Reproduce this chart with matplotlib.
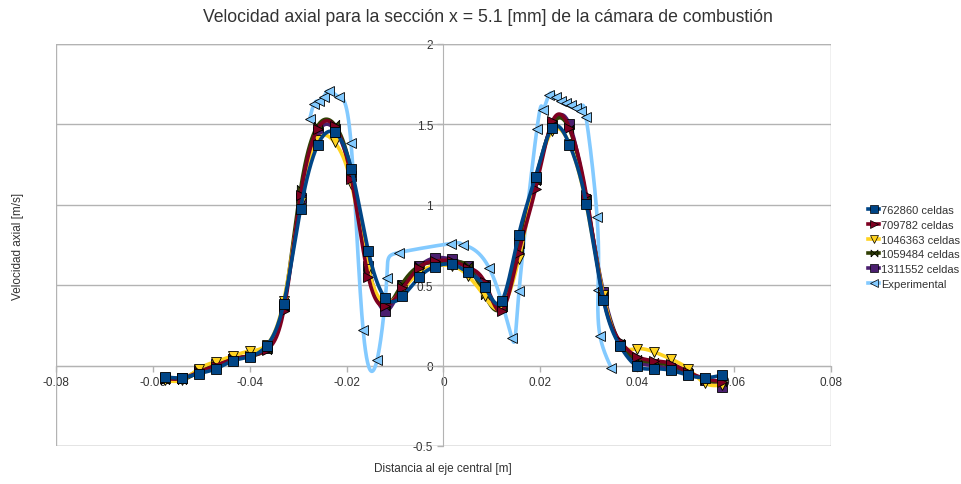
import numpy as np
import matplotlib
matplotlib.use("Agg")
import matplotlib.pyplot as plt
from matplotlib.patches import Rectangle

plt.rcParams['font.family'] = ['Liberation Sans', 'DejaVu Sans']
plt.rcParams['axes.unicode_minus'] = False

# posiciones radiales de las simulaciones [m]
x_cfd = [-0.0575, -0.0540, -0.0505, -0.0470, -0.0435, -0.0400, -0.0365, -0.0330,
         -0.0295, -0.0260, -0.0225, -0.0190, -0.0155, -0.0120, -0.0085, -0.0050,
         -0.0018, 0.0018, 0.0050, 0.0085, 0.0120, 0.0155, 0.0190, 0.0225,
         0.0260, 0.0295, 0.0330, 0.0365, 0.0400, 0.0435, 0.0470, 0.0505, 0.0540, 0.0575]

v_762860 = [-0.07, -0.075, -0.05, -0.02, 0.03, 0.055, 0.125, 0.385, 0.975, 1.37, 1.45, 1.22,
            0.71, 0.42, 0.43, 0.55, 0.615, 0.63, 0.58, 0.49, 0.40, 0.81, 1.175, 1.48,
            1.375, 1.005, 0.41, 0.12, -0.005, -0.02, -0.03, -0.06, -0.075, -0.06]
v_709782 = [-0.08, -0.08, -0.04, 0.0, 0.04, 0.06, 0.10, 0.34, 1.06, 1.47, 1.49, 1.16,
            0.55, 0.37, 0.48, 0.61, 0.65, 0.65, 0.61, 0.52, 0.34, 0.70, 1.10, 1.52,
            1.48, 1.06, 0.42, 0.15, 0.056, 0.031, 0.012, -0.04, -0.08, -0.10]
v_1046363 = [-0.09, -0.09, -0.02, 0.025, 0.06, 0.09, 0.13, 0.40, 1.02, 1.40, 1.39, 1.13,
             0.60, 0.39, 0.47, 0.58, 0.62, 0.62, 0.56, 0.43, 0.36, 0.66, 1.15, 1.46,
             1.38, 1.00, 0.44, 0.13, 0.105, 0.085, 0.04, -0.02, -0.11, -0.12]
v_1059484 = [-0.09, -0.09, -0.04, 0.0, 0.04, 0.06, 0.10, 0.37, 1.10, 1.49, 1.50, 1.20,
             0.60, 0.37, 0.51, 0.62, 0.64, 0.64, 0.62, 0.44, 0.36, 0.72, 1.15, 1.50,
             1.47, 1.04, 0.44, 0.14, 0.04, 0.02, 0.0, -0.04, -0.09, -0.10]
v_1311552 = [-0.08, -0.08, -0.03, 0.01, 0.04, 0.06, 0.11, 0.37, 1.04, 1.45, 1.47, 1.18,
             0.62, 0.34, 0.50, 0.62, 0.67, 0.66, 0.62, 0.50, 0.37, 0.76, 1.16, 1.50,
             1.50, 1.03, 0.46, 0.13, 0.02, 0.0, -0.02, -0.05, -0.09, -0.13]

x_exp = [-0.0276, -0.0267, -0.0257, -0.0247, -0.0236, -0.0216, -0.0191, -0.0166, -0.0137,
         -0.0117, -0.0092, 0.0015, 0.0040, 0.0094, 0.0141, 0.0156, 0.0193, 0.0205, 0.0218,
         0.0232, 0.0243, 0.0253, 0.0263, 0.0274, 0.0284, 0.0294, 0.0317, 0.0319, 0.0323, 0.0346]
v_exp = [1.536, 1.629, 1.648, 1.673, 1.710, 1.673, 1.387, 0.224, 0.037, 0.547, 0.703,
         0.759, 0.752, 0.609, 0.174, 0.466, 1.474, 1.592, 1.685, 1.673, 1.648, 1.636,
         1.623, 1.604, 1.586, 1.549, 0.927, 0.473, 0.187, -0.012]

x_ticks = [-0.08, -0.06, -0.04, -0.02, 0, 0.02, 0.04, 0.06, 0.08]
x_ticklabels = ['-0.08', '-0.06', '-0.04', '-0.02', '0', '0.02', '0.04', '0.06', '0.08']
y_ticks = [-0.5, 0, 0.5, 1, 1.5, 2]
y_ticklabels = ['-0.5', '0', '0.5', '1', '1.5', '2']

GRAY = '#b3b3b3'
TXT = '#333333'
bowtie = [(-1, -1), (1, 1), (1, -1), (-1, 1), (-1, -1)]


def natural_spline(v, n):
    # spline cubica natural con parametro uniforme (indice del punto)
    v = np.asarray(v, float)
    m = len(v)
    A = np.zeros((m, m))
    b = np.zeros(m)
    A[0, 0] = A[-1, -1] = 1
    for i in range(1, m - 1):
        A[i, i - 1:i + 2] = [1, 4, 1]
        b[i] = 6 * (v[i + 1] - 2 * v[i] + v[i - 1])
    M = np.linalg.solve(A, b)
    s = np.linspace(0, 1, n, endpoint=False)
    res = []
    for i in range(m - 1):
        c = v[i + 1] - v[i] - (M[i + 1] + 2 * M[i]) / 6
        res.append(v[i] + c * s + M[i] / 2 * s ** 2 + (M[i + 1] - M[i]) / 6 * s ** 3)
    res.append([v[-1]])
    return np.concatenate(res)


def spline_curve(xs, ys, n=40):
    return natural_spline(xs, n), natural_spline(ys, n)


fig = plt.figure(figsize=(9.62, 4.85), dpi=100)
ax = fig.add_axes([56 / 962, 38 / 485, 775 / 962, 402 / 485])

series = [
    (x_exp, v_exp, '#83CAFF', '<', 7, 'Experimental'),
    (x_cfd, v_1311552, '#4B1F6F', 's', 6.5, '1311552 celdas'),
    (x_cfd, v_1059484, '#314004', bowtie, 6, '1059484 celdas'),
    (x_cfd, v_1046363, '#FFD320', 'v', 7, '1046363 celdas'),
    (x_cfd, v_709782, '#7E0021', '>', 7, '709782 celdas'),
    (x_cfd, v_762860, '#004586', 's', 7, '762860 celdas'),
]
handles = {}
for k, (xs, ys, col, mk, ms, lab) in enumerate(series):
    sx, sy = spline_curve(xs, ys)
    ax.plot(sx, sy, color=col, lw=2.6, zorder=3 + k, solid_capstyle='round')
    ax.plot(xs, ys, ls='none', marker=mk, ms=ms, mfc=col, mec='black', mew=0.6, zorder=3 + k)
    handles[lab] = plt.Line2D([], [], color=col, lw=2.6, marker=mk, ms=ms - 1,
                              mfc=col, mec='black', mew=0.5)

ax.set_xlim(-0.08, 0.08)
ax.set_ylim(-0.5, 2)
for sp in ax.spines.values():
    sp.set_visible(False)
ax.spines['left'].set_visible(True)
ax.spines['bottom'].set_visible(True)
ax.spines['left'].set_position(('data', 0))
ax.spines['bottom'].set_position(('data', 0))
ax.spines['left'].set_color(GRAY)
ax.spines['bottom'].set_color(GRAY)
ax.spines['left'].set_zorder(1)
ax.spines['bottom'].set_zorder(1)
ax.add_patch(Rectangle((0, 0), 1, 1, transform=ax.transAxes, fill=False,
                       ec=GRAY, lw=1.0, zorder=1))
ax.set_xticks(x_ticks)
ax.set_xticklabels(x_ticklabels)
ax.set_yticks(y_ticks)
ax.set_yticklabels(y_ticklabels)
ax.tick_params(axis='both', colors=GRAY, labelcolor=TXT, labelsize=8.5, length=4, width=1)
ax.yaxis.grid(True, color=GRAY, lw=1)
ax.set_axisbelow(True)

fig.text(488 / 962, 1 - 18 / 485, 'Velocidad axial para la sección x = 5.1 [mm] de la cámara de combustión',
         ha='center', va='center', fontsize=12.7, color=TXT)
fig.text(18 / 962, 1 - 246 / 485, 'Velocidad axial [m/s]', rotation=90,
         ha='center', va='center', fontsize=8.5, color=TXT)
fig.text(443 / 962, 1 - 469 / 485, 'Distancia al eje central [m]',
         ha='center', va='center', fontsize=8.5, color=TXT)

order = ['762860 celdas', '709782 celdas', '1046363 celdas', '1059484 celdas',
         '1311552 celdas', 'Experimental']
leg = fig.legend([handles[o] for o in order], order, loc='center left',
                 bbox_to_anchor=(858 / 962, 1 - 248 / 485), frameon=False,
                 fontsize=8, handlelength=1.0, handletextpad=0.2, labelspacing=0.42)
for t in leg.get_texts():
    t.set_color(TXT)

fig.savefig('out.png', dpi=100)
